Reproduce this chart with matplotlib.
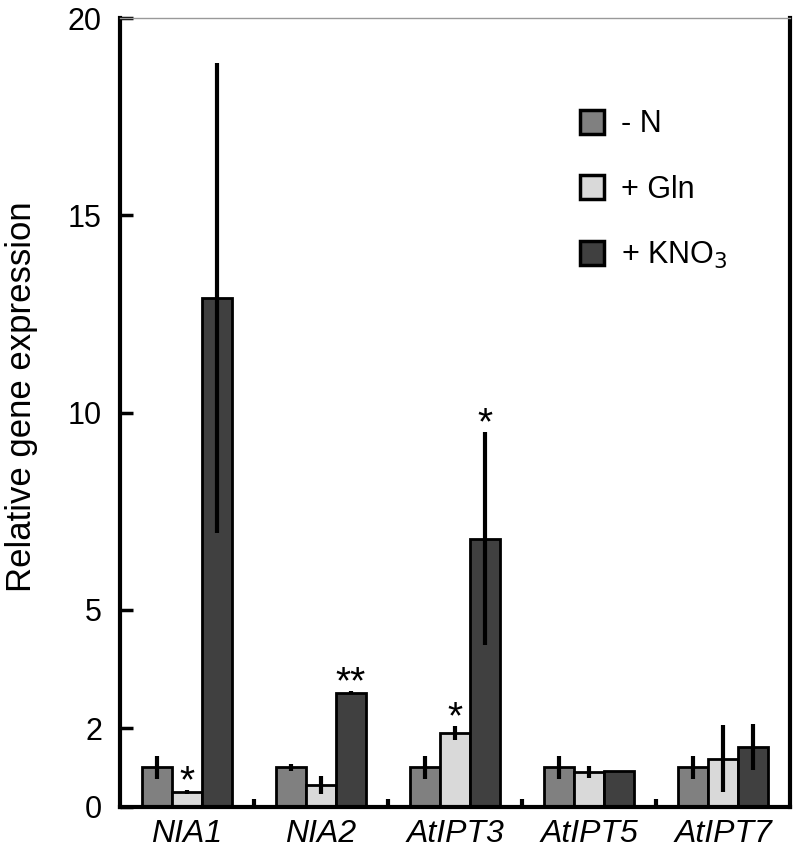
import numpy as np
import matplotlib.pyplot as plt
from matplotlib.patches import Patch

plt.rcParams['font.family'] = ['Liberation Sans', 'DejaVu Sans']

genes = ['NIA1', 'NIA2', 'AtIPT3', 'AtIPT5', 'AtIPT7']
treatments = ['- N', '+ Gln', '+ KNO$_3$']

minus_n = [1.0, 1.0, 1.0, 1.0, 1.0]
minus_n_err = [0.3, 0.08, 0.3, 0.3, 0.3]
gln = [0.38, 0.56, 1.87, 0.89, 1.22]
gln_err = [0.05, 0.23, 0.18, 0.15, 0.85]
kno3 = [12.9, 2.9, 6.8, 0.9, 1.52]
kno3_err = [5.95, 0.03, 2.7, 0.0, 0.58]

# significance marks: (gene index, series index, text)
stars = [(0, 1, '*'), (1, 2, '**'), (2, 1, '*'), (2, 2, '*')]

colors = ['#808080', '#d9d9d9', '#404040']
series = [minus_n, gln, kno3]
errors = [minus_n_err, gln_err, kno3_err]

fig = plt.figure(figsize=(8, 8.63), dpi=100)
ax = fig.add_axes([0.15, 0.065, 0.8375, 0.914])

x = np.arange(len(genes))
w = 0.224
for i, (vals, errs, c) in enumerate(zip(series, errors, colors)):
    pos = x + (i - 1) * w
    ax.bar(pos, vals, width=w, color=c, edgecolor='black', linewidth=2, zorder=2)
    ax.errorbar(pos, vals, yerr=errs, fmt='none', ecolor='black', elinewidth=3,
                capsize=0, zorder=3)

for g, s, txt in stars:
    top = series[s][g] + errors[s][g]
    ax.text(x[g] + (s - 1) * w, top - 0.05, txt, ha='center', va='baseline', fontsize=28)

ax.set_xlim(-0.5, 4.5)
ax.set_ylim(0, 20)
ax.set_yticks([0, 2, 5, 10, 15, 20])
ax.set_xticks(x)
ax.set_xticklabels(genes, fontstyle='italic', fontsize=23)
ax.set_xticks(x[:-1] + 0.5, minor=True)
ax.tick_params(axis='x', which='major', length=0, pad=9)
ax.tick_params(axis='x', which='minor', direction='in', length=6, width=3)
ax.tick_params(axis='y', direction='in', length=9, width=2.5, labelsize=22, pad=13)
ax.set_ylabel('Relative gene expression', fontsize=25)
ax.yaxis.set_label_coords(-0.122, 0.52)

for sp in ['left', 'bottom', 'right']:
    ax.spines[sp].set_linewidth(3)
ax.spines['top'].set_linewidth(1)
ax.spines['top'].set_color('#999999')

handles = [Patch(facecolor=c, edgecolor='black', linewidth=2.5) for c in colors]
ax.legend(handles, treatments, loc='upper left', bbox_to_anchor=(0.69, 0.905),
          bbox_transform=fig.transFigure, frameon=False, fontsize=22,
          handlelength=0.8, handleheight=0.8, labelspacing=1.15, handletextpad=0.55)

fig.savefig('out.png', dpi=100)
